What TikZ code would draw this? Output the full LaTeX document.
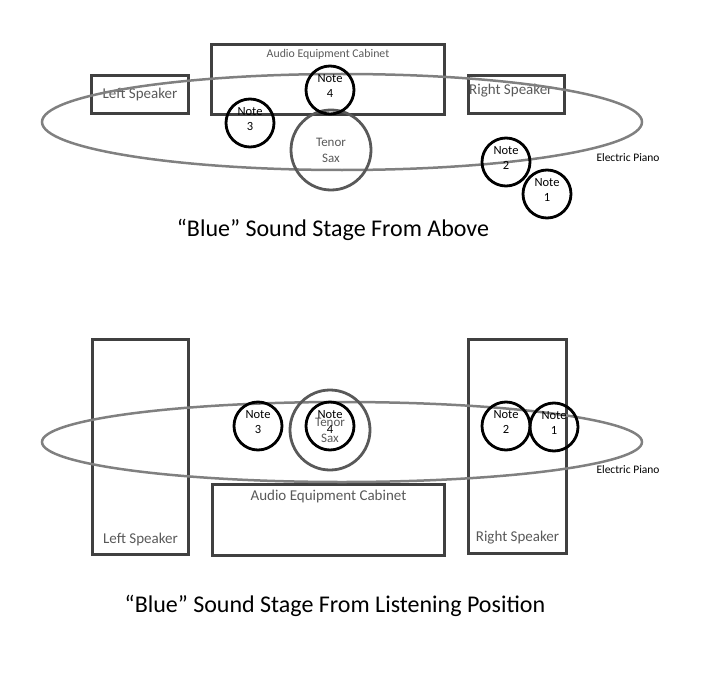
\documentclass[tikz,border=0pt]{standalone}
\usepackage{fontspec}
\setmainfont{Carlito}
\usetikzlibrary{positioning,shapes.geometric}
\definecolor{boxgray}{HTML}{404040}
\definecolor{stagegray}{HTML}{808080}
\definecolor{labelgray}{HTML}{595959}
\tikzset{
  box/.style={draw=boxgray, line width=3pt, inner sep=0pt, anchor=north west},
  lbl/.style={text=labelgray, inner sep=0pt, font=\fontsize{15}{17}\selectfont},
  stage/.style={ellipse, draw=stagegray, line width=2.5pt, inner sep=0pt},
  note/.style={circle, draw=black, line width=2.8pt, minimum size=48pt, inner sep=0pt},
  notetext/.style={inner sep=0pt, align=center, font=\fontsize{12.5}{15}\selectfont},
  sax/.style={circle, draw=labelgray, line width=2.8pt, minimum size=80pt, inner sep=0pt,
    align=center, text=labelgray, font=\fontsize{13}{16}\selectfont},
  piano/.style={inner sep=0pt, font=\fontsize{11.5}{13}\selectfont},
  heading/.style={inner sep=0pt, font=\fontsize{24}{28}\selectfont}
}
\begin{document}
\begin{tikzpicture}[x=1pt, y=-1pt]
  \useasboundingbox (0,0) rectangle (717,674);
  % ---- From above ----
  % Cabinet and speakers
  \node[box, minimum width=233pt, minimum height=70pt] (cabA) at (210,43) {};
  \node[lbl, font=\fontsize{11.8}{14}\selectfont, below=6pt of cabA.north] (cabAlbl) {Audio Equipment Cabinet};
  \node[box, minimum width=97pt, minimum height=38pt] (lspA) at (90,74) {};
  \node[lbl] (lspAlbl) at (lspA) {Left Speaker};
  \node[box, minimum width=96pt, minimum height=38pt] (rspA) at (467,74) {};
  \node[lbl, anchor=north west] (rspAlbl) at ([shift={(2,10)}]rspA.north west) {Right Speaker};
  % Stage
  \node[stage, minimum width=600pt, minimum height=96pt] (stageA) at (342,122) {};
  % Instruments
  \node[sax] (saxA) at (331,150) {Tenor\\Sax};
  \foreach \nm/\x/\y/\k in {n4A/330/90/4, n3A/250/123/3, n2A/506/162/2, n1A/547/194/1} {
    \node[note] (\nm) at (\x,\y) {};
    \node[notetext] at ([yshift=4pt]\nm) {Note\\\k};
  }
  \node[piano] (pianoA) at (628,158) {Electric Piano};
  \node[heading] (titleA) at (333,230) {“Blue” Sound Stage From Above};
  % ---- From listening position ----
  % Cabinet and speakers
  \node[box, minimum width=96pt, minimum height=215pt] (lspB) at (91,338) {};
  \node[lbl, above=10pt of lspB.south] (lspBlbl) {Left Speaker};
  \node[box, minimum width=232pt, minimum height=71pt] (cabB) at (211,483) {};
  \node[lbl, below=7pt of cabB.north] (cabBlbl) {Audio Equipment Cabinet};
  \node[box, minimum width=98pt, minimum height=214pt] (rspB) at (467,338) {};
  \node[lbl, above=11pt of rspB.south] (rspBlbl) {Right Speaker};
  % Stage
  \node[stage, minimum width=600pt, minimum height=80pt] (stageB) at (342,442) {};
  % Instruments
  \node[sax] (saxB) at (330,430) {Tenor\\Sax};
  \foreach \nm/\x/\y/\k in {n4B/330/426/4, n3B/258/426/3, n2B/506/426/2, n1B/554/427/1} {
    \node[note] (\nm) at (\x,\y) {};
    \node[notetext] at ([yshift=4pt]\nm) {Note\\\k};
  }
  \node[piano] (pianoB) at (628,470) {Electric Piano};
  \node[heading] (titleB) at (335,606) {“Blue” Sound Stage From Listening Position};
\end{tikzpicture}
\end{document}
